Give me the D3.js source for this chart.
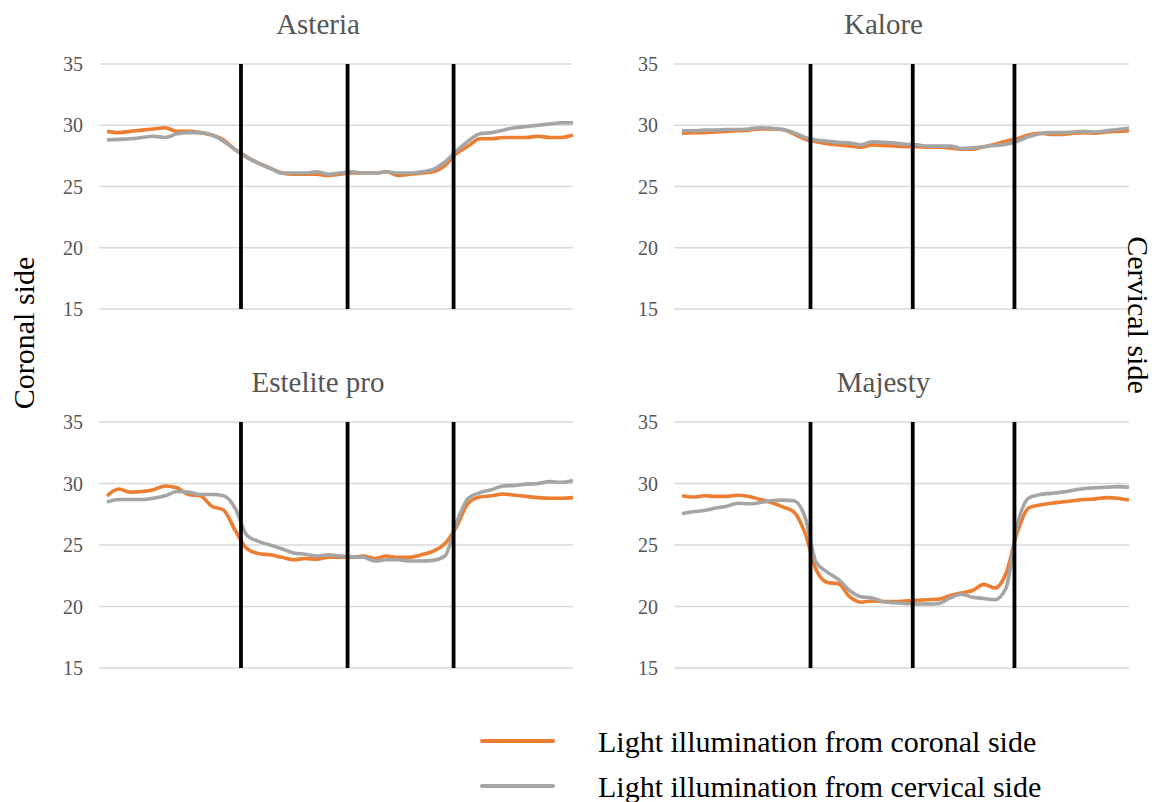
<!DOCTYPE html>
<html>
<head>
<meta charset="utf-8">
<script src="https://cdn.jsdelivr.net/npm/d3@7"></script>
<style>
  body { margin: 0; background: #ffffff; }
  text { font-family: "Liberation Serif", "Times New Roman", serif; }
</style>
</head>
<body>
<div id="chart"></div>
<script>
// panel titles, legend entries, axis ticks
const panelNames = ["Asteria", "Kalore", "Estelite pro", "Majesty"];
const seriesNames = ["Light illumination from coronal side", "Light illumination from cervical side"];
const yTicks = [15, 20, 25, 30, 35];
// black divider lines, in sample-index units
const dividerPositions = [11.5, 20.65, 29.75];

// values, 41 samples along the scan
const asteriaCoronal = [29.5, 29.4, 29.5, 29.6, 29.7, 29.8, 29.5, 29.5, 29.4, 29.2, 28.8, 28.0, 27.4, 26.9, 26.5, 26.1, 26.0, 26.0, 26.0, 25.9, 26.0, 26.1, 26.1, 26.1, 26.2, 25.9, 26.0, 26.1, 26.2, 26.7, 27.7, 28.3, 28.9, 28.9, 29.0, 29.0, 29.0, 29.1, 29.0, 29.0, 29.2];
const asteriaCervical = [28.8, 28.85, 28.9, 29.0, 29.1, 29.0, 29.3, 29.4, 29.4, 29.2, 28.7, 28.0, 27.4, 26.9, 26.5, 26.1, 26.1, 26.1, 26.2, 26.0, 26.1, 26.2, 26.1, 26.1, 26.2, 26.1, 26.1, 26.2, 26.4, 27.0, 27.9, 28.7, 29.3, 29.4, 29.6, 29.8, 29.9, 30.0, 30.1, 30.2, 30.2];

const kaloreCoronal = [29.35, 29.4, 29.4, 29.45, 29.5, 29.55, 29.6, 29.7, 29.7, 29.65, 29.3, 28.85, 28.65, 28.5, 28.4, 28.3, 28.2, 28.4, 28.35, 28.3, 28.25, 28.25, 28.2, 28.2, 28.15, 28.05, 28.05, 28.25, 28.45, 28.7, 28.9, 29.2, 29.35, 29.25, 29.25, 29.35, 29.4, 29.35, 29.45, 29.5, 29.55];
const kaloreCervical = [29.55, 29.55, 29.6, 29.6, 29.65, 29.65, 29.7, 29.8, 29.75, 29.65, 29.4, 29.0, 28.8, 28.7, 28.6, 28.55, 28.4, 28.65, 28.6, 28.55, 28.45, 28.4, 28.3, 28.3, 28.3, 28.1, 28.15, 28.25, 28.35, 28.45, 28.7, 29.05, 29.3, 29.4, 29.4, 29.45, 29.5, 29.45, 29.55, 29.65, 29.75];

const esteliteCoronal = [29.0, 29.55, 29.3, 29.35, 29.5, 29.8, 29.65, 29.1, 29.0, 28.15, 27.85, 26.2, 24.7, 24.3, 24.2, 24.0, 23.8, 23.9, 23.85, 24.0, 24.0, 24.0, 24.1, 23.9, 24.1, 24.0, 24.0, 24.2, 24.5, 25.1, 26.5, 28.4, 28.9, 29.0, 29.15, 29.05, 28.95, 28.85, 28.8, 28.8, 28.85];
const esteliteCervical = [28.5, 28.7, 28.7, 28.7, 28.8, 29.0, 29.35, 29.3, 29.1, 29.1, 29.0, 28.0, 25.8, 25.3, 25.0, 24.7, 24.35, 24.25, 24.1, 24.2, 24.1, 24.05, 24.0, 23.7, 23.8, 23.8, 23.7, 23.7, 23.75, 24.1, 26.8, 28.8, 29.25, 29.5, 29.8, 29.85, 29.95, 30.0, 30.15, 30.1, 30.25];

const majestyCoronal = [29.0, 28.9, 29.0, 28.95, 28.95, 29.05, 28.95, 28.7, 28.45, 28.1, 27.7, 26.0, 23.0, 21.95, 21.85, 20.8, 20.35, 20.45, 20.4, 20.4, 20.45, 20.5, 20.55, 20.6, 20.9, 21.1, 21.3, 21.8, 21.5, 22.7, 26.0, 28.0, 28.25, 28.4, 28.5, 28.6, 28.7, 28.75, 28.85, 28.8, 28.65];
const majestyCervical = [27.55, 27.7, 27.8, 28.0, 28.15, 28.4, 28.35, 28.45, 28.6, 28.65, 28.6, 27.3, 23.6, 22.8, 22.2, 21.3, 20.8, 20.7, 20.4, 20.3, 20.25, 20.2, 20.2, 20.25, 20.7, 21.0, 20.75, 20.65, 20.55, 21.5, 26.6, 28.8, 29.1, 29.2, 29.3, 29.45, 29.6, 29.65, 29.7, 29.75, 29.7];

const coronalColor = "#ED7D31";
const cervicalColor = "#A5A5A5";

const width = 1155, height = 802;

const svg = d3.select("#chart").append("svg")
    .attr("width", width)
    .attr("height", height);

// plot boxes: left/right columns, top/bottom rows
const cols = [{ left: 99, right: 573 }, { left: 674, right: 1129 }];
const rows = [{ top: 64, bottom: 309 }, { top: 422, bottom: 668 }];

const panels = [
    { name: panelNames[0], coronal: asteriaCoronal, cervical: asteriaCervical, col: 0, row: 0 },
    { name: panelNames[1], coronal: kaloreCoronal, cervical: kaloreCervical, col: 1, row: 0 },
    { name: panelNames[2], coronal: esteliteCoronal, cervical: esteliteCervical, col: 0, row: 1 },
    { name: panelNames[3], coronal: majestyCoronal, cervical: majestyCervical, col: 1, row: 1 }
];

panels.forEach(p => {
    const c = cols[p.col], r = rows[p.row];
    const n = p.coronal.length;

    const x = d3.scaleLinear().domain([0, n - 1]).range([c.left + 8, c.right]);
    const y = d3.scaleLinear().domain([15, 35]).range([r.bottom, r.top]);

    const g = svg.append("g");

    // gridlines
    g.selectAll("line.grid")
        .data(yTicks)
        .join("line")
        .attr("class", "grid")
        .attr("x1", c.left)
        .attr("x2", c.right)
        .attr("y1", d => y(d))
        .attr("y2", d => y(d))
        .attr("stroke", "#d9d9d9")
        .attr("stroke-width", 1.3);

    // tick labels
    g.selectAll("text.tick")
        .data(yTicks)
        .join("text")
        .attr("class", "tick")
        .attr("x", c.left - 16)
        .attr("y", d => y(d))
        .attr("dy", "0.35em")
        .attr("text-anchor", "end")
        .attr("font-size", 20)
        .attr("fill", "#555555")
        .text(d => d);

    // title
    g.append("text")
        .attr("x", (c.left - 36 + c.right) / 2)
        .attr("y", r.top - 30)
        .attr("text-anchor", "middle")
        .attr("font-size", 29)
        .attr("fill", "#555555")
        .text(p.name);

    const line = d3.line()
        .x((d, i) => x(i))
        .y(d => y(d))
        .curve(d3.curveMonotoneX);

    g.append("path")
        .datum(p.coronal)
        .attr("d", line)
        .attr("fill", "none")
        .attr("stroke", coronalColor)
        .attr("stroke-width", 3.6)
        .attr("stroke-linejoin", "round");

    g.append("path")
        .datum(p.cervical)
        .attr("d", line)
        .attr("fill", "none")
        .attr("stroke", cervicalColor)
        .attr("stroke-width", 3.6)
        .attr("stroke-linejoin", "round");

    // divider lines on top
    g.selectAll("line.divider")
        .data(dividerPositions)
        .join("line")
        .attr("class", "divider")
        .attr("x1", d => x(d))
        .attr("x2", d => x(d))
        .attr("y1", y(35))
        .attr("y2", y(15))
        .attr("stroke", "#000")
        .attr("stroke-width", 3.8);
});

// side labels
svg.append("text")
    .attr("transform", "translate(23,333) rotate(-90)")
    .attr("text-anchor", "middle")
    .attr("dominant-baseline", "central")
    .attr("font-size", 30)
    .attr("fill", "#000")
    .text("Coronal side");

svg.append("text")
    .attr("transform", "translate(1138,315) rotate(90)")
    .attr("text-anchor", "middle")
    .attr("dominant-baseline", "central")
    .attr("font-size", 30)
    .attr("fill", "#000")
    .text("Cervical side");

// legend
const legendColors = [coronalColor, cervicalColor];
const legendY = [741, 786];

const legend = svg.append("g");
seriesNames.forEach((name, i) => {
    legend.append("line")
        .attr("x1", 482)
        .attr("x2", 553)
        .attr("y1", legendY[i])
        .attr("y2", legendY[i])
        .attr("stroke", legendColors[i])
        .attr("stroke-width", 4)
        .attr("stroke-linecap", "round");

    legend.append("text")
        .attr("x", 598)
        .attr("y", legendY[i])
        .attr("dy", "0.35em")
        .attr("font-size", 30)
        .attr("fill", "#000")
        .text(name);
});
</script>
</body>
</html>
